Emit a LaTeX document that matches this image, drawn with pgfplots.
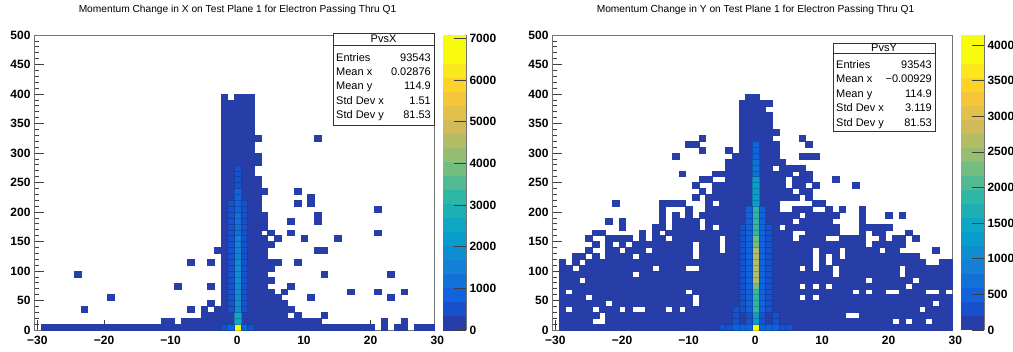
\documentclass[border=0pt]{standalone}
\usepackage{pgfplots}
\pgfplotsset{compat=1.18}
\usepackage{pgfplotstable}
\usepackage{fontspec}
\setmainfont{Liberation Sans}

\definecolor{bird0}{rgb}{0.1519,0.2395,0.6574}
\definecolor{framegray}{gray}{0.45}
\newcommand\ticklabelfont{\fontsize{12pt}{12pt}\selectfont\bfseries}
\newcommand\statfont{\fontsize{11pt}{13pt}\selectfont}
\newcommand\titlefont{\fontsize{10.2pt}{12pt}\selectfont}

\pgfplotsset{
  colormap={bird}{
    rgb=(0.1519,0.2395,0.6574) rgb=(0.0909,0.3188,0.7963) rgb=(0.0629,0.3883,0.8625)
    rgb=(0.0700,0.4428,0.8512) rgb=(0.0777,0.5018,0.8390) rgb=(0.0564,0.5584,0.8200)
    rgb=(0.0340,0.6148,0.8007) rgb=(0.0516,0.6556,0.7644) rgb=(0.1159,0.6867,0.7035)
    rgb=(0.1802,0.7178,0.6425) rgb=(0.3234,0.7307,0.5703) rgb=(0.4557,0.7425,0.5037)
    rgb=(0.5869,0.7460,0.4433) rgb=(0.7050,0.7393,0.3957) rgb=(0.8214,0.7336,0.3475)
    rgb=(0.8883,0.7538,0.2896) rgb=(0.9607,0.7757,0.2269) rgb=(0.9915,0.8281,0.1664)
    rgb=(0.9837,0.9087,0.1079) rgb=(0.9764,0.9832,0.0539) rgb=(0.9764,0.9832,0.0539)
  },
}

\newlength\binw \setlength\binw{3.3333pt}
\newlength\binh \setlength\binh{2.95pt}
\pgfdeclareplotmark{bin}{%
  \pgfpathrectangle{\pgfpoint{-\binw}{-\binh}}{\pgfpoint{2\binw}{2\binh}}%
  \pgfusepathqfillstroke}

\pgfplotsset{
  rootaxis/.style={
    scale only axis, width=400pt, height=295pt,
    xmin=-30.5, xmax=29.5, ymin=0, ymax=500,
    xtick={-30,-20,...,20}, xticklabels={−30,−20,−10,0,10,20},
    ytick={0,50,...,500}, yticklabels={0,50,100,150,200,250,300,350,400,450,500},
    minor x tick num=4, minor y tick num=4,
    tick align=inside, xtick pos=left, ytick pos=left,
    major tick length=10pt, minor tick length=5pt,
    tick style={black!75, line width=0.6pt},
    axis line style={framegray, line width=0.8pt},
    ticklabel style={font=\ticklabelfont},
    xticklabel style={yshift=-3pt},
    axis on top, clip=false,
    colormap name=bird, colormap access=piecewise constant,
    colorbar,
  },
  rootcbar/.style={
    at={(parent axis.north east)}, anchor=north west, xshift=0.5pt,
    scale only axis, width=23pt, height=295pt,
    tick align=inside, ytick pos=right, yticklabel pos=right,
    major tick length=12pt, minor tick num=0,
    tick style={black!75, line width=0.6pt},
    axis line style={draw=none},
    yticklabel style={font=\ticklabelfont},
    axis on top,
    extra description/.code={\draw[framegray, line width=0.8pt] (1,0)--(1,1);},
  },
  gridcol/.style={only marks, mark=bin, mark options={fill=bird0, draw=bird0, line width=0.3pt},
    restrict y to domain=0:500},
  binscatter/.style={scatter, only marks, mark=bin, scatter src=explicit, mark options={line width=0.3pt}},
}

% occupancy grids: rows from y-bin 390-400 (top) down to 0-10; columns x=-30..29
\pgfplotstableread[header=false]{
0 0 0 0 0 0 0 0 0 0 0 0 0 0 0 0 0 0 0 0 0 0 0 0 0 0 0 0 1 0 1 1 1 0 0 0 0 0 0 0 0 0 0 0 0 0 0 0 0 0 0 0 0 0 0 0 0 0 0 0
0 0 0 0 0 0 0 0 0 0 0 0 0 0 0 0 0 0 0 0 0 0 0 0 0 0 0 0 1 1 1 1 1 0 0 0 0 0 0 0 0 0 0 0 0 0 0 0 0 0 0 0 0 0 0 0 0 0 0 0
0 0 0 0 0 0 0 0 0 0 0 0 0 0 0 0 0 0 0 0 0 0 0 0 0 0 0 0 1 1 1 1 1 0 0 0 0 0 0 0 0 0 0 0 0 0 0 0 0 0 0 0 0 0 0 0 0 0 0 0
0 0 0 0 0 0 0 0 0 0 0 0 0 0 0 0 0 0 0 0 0 0 0 0 0 0 0 0 1 1 1 1 1 0 0 0 0 0 0 0 0 0 0 0 0 0 0 0 0 0 0 0 0 0 0 0 0 0 0 0
0 0 0 0 0 0 0 0 0 0 0 0 0 0 0 0 0 0 0 0 0 0 0 0 0 0 0 0 1 1 1 1 1 0 0 0 0 0 0 0 0 0 0 0 0 0 0 0 0 0 0 0 0 0 0 0 0 0 0 0
0 0 0 0 0 0 0 0 0 0 0 0 0 0 0 0 0 0 0 0 0 0 0 0 0 0 0 0 1 1 1 1 1 0 0 0 0 0 0 0 0 0 0 0 0 0 0 0 0 0 0 0 0 0 0 0 0 0 0 0
0 0 0 0 0 0 0 0 0 0 0 0 0 0 0 0 0 0 0 0 0 0 0 0 0 0 0 0 1 1 1 1 1 0 0 0 0 0 0 0 0 0 0 0 0 0 0 0 0 0 0 0 0 0 0 0 0 0 0 0
0 0 0 0 0 0 0 0 0 0 0 0 0 0 0 0 0 0 0 0 0 0 0 0 0 0 0 0 1 1 1 1 1 1 0 0 0 0 0 0 0 0 1 0 0 0 0 0 0 0 0 0 0 0 0 0 0 0 0 0
0 0 0 0 0 0 0 0 0 0 0 0 0 0 0 0 0 0 0 0 0 0 0 0 0 0 0 0 1 1 1 1 1 0 0 0 0 0 0 0 0 0 0 0 0 0 0 0 0 0 0 0 0 0 0 0 0 0 0 0
0 0 0 0 0 0 0 0 0 0 0 0 0 0 0 0 0 0 0 0 0 0 0 0 0 0 0 0 1 1 1 1 1 0 0 0 0 0 0 0 0 0 0 0 0 0 0 0 0 0 0 0 0 0 0 0 0 0 0 0
0 0 0 0 0 0 0 0 0 0 0 0 0 0 0 0 0 0 0 0 0 0 0 0 0 0 0 0 1 1 1 1 1 1 0 0 0 0 0 0 0 0 0 0 0 0 0 0 0 0 0 0 0 0 0 0 0 0 0 0
0 0 0 0 0 0 0 0 0 0 0 0 0 0 0 0 0 0 0 0 0 0 0 0 0 0 0 0 1 1 1 1 1 1 0 0 0 0 0 0 0 0 0 0 0 0 0 0 0 0 0 0 0 0 0 0 0 0 0 0
0 0 0 0 0 0 0 0 0 0 0 0 0 0 0 0 0 0 0 0 0 0 0 0 0 0 0 0 1 1 1 1 1 0 0 0 0 0 0 0 0 0 0 0 0 0 0 0 0 0 0 0 0 0 0 0 0 0 0 0
0 0 0 0 0 0 0 0 0 0 0 0 0 0 0 0 0 0 0 0 0 0 0 0 0 0 0 0 1 1 1 1 1 0 0 0 0 0 0 0 0 0 0 0 0 0 0 0 0 0 0 0 0 0 0 0 0 0 0 0
0 0 0 0 0 0 0 0 0 0 0 0 0 0 0 0 0 0 0 0 0 0 0 0 0 0 0 0 1 1 1 1 1 1 0 0 0 0 0 0 0 0 0 0 0 0 0 0 0 0 0 0 0 0 0 0 0 0 0 0
0 0 0 0 0 0 0 0 0 0 0 0 0 0 0 0 0 0 0 0 0 0 0 0 0 0 0 0 1 1 1 1 1 1 0 0 0 0 0 0 0 0 0 0 0 0 0 0 0 0 0 0 0 0 0 0 0 0 0 0
0 0 0 0 0 0 0 0 0 0 0 0 0 0 0 0 0 0 0 0 0 0 0 0 0 0 0 0 1 1 1 1 1 1 1 0 0 0 0 1 0 0 0 0 0 0 0 0 0 0 0 0 0 0 0 0 0 0 0 0
0 0 0 0 0 0 0 0 0 0 0 0 0 0 0 0 0 0 0 0 0 0 0 0 0 0 0 0 1 1 1 1 1 1 0 0 0 0 0 0 0 1 0 0 0 0 0 0 0 0 0 0 0 0 0 0 0 0 0 0
0 0 0 0 0 0 0 0 0 0 0 0 0 0 0 0 0 0 0 0 0 0 0 0 0 0 0 0 1 1 1 1 1 1 0 0 0 0 0 1 0 1 0 0 0 0 0 0 0 0 0 0 0 0 0 0 0 0 0 0
0 0 0 0 0 0 0 0 0 0 0 0 0 0 0 0 0 0 0 0 0 0 0 0 0 0 0 0 1 1 1 1 1 1 0 0 0 0 0 0 0 0 0 0 0 0 0 0 0 0 0 1 0 0 0 0 0 0 0 0
0 0 0 0 0 0 0 0 0 0 0 0 0 0 0 0 0 0 0 0 0 0 0 0 0 0 0 0 1 1 1 1 1 1 1 0 0 0 0 0 0 0 1 0 0 0 0 0 0 0 0 0 0 0 0 0 0 0 0 0
0 0 0 0 0 0 0 0 0 0 0 0 0 0 0 0 0 0 0 0 0 0 0 0 0 0 0 0 1 1 1 1 1 1 1 0 0 0 1 0 0 0 1 0 0 0 0 0 0 0 0 0 0 0 0 0 0 0 0 0
0 0 0 0 0 0 0 0 0 0 0 0 0 0 0 0 0 0 0 0 0 0 0 0 0 0 0 0 1 1 1 1 1 1 1 0 0 0 0 0 0 0 0 0 0 0 0 0 0 0 0 0 0 0 0 0 0 0 0 0
0 0 0 0 0 0 0 0 0 0 0 0 0 0 0 0 0 0 0 0 0 0 0 0 0 0 0 0 1 1 1 1 1 1 0 1 0 0 1 0 0 0 0 0 0 0 0 0 0 0 0 1 0 0 0 0 0 0 0 0
0 0 0 0 0 0 0 0 0 0 0 0 0 0 0 0 0 0 0 0 0 0 0 0 0 0 0 0 1 1 1 1 1 1 1 0 1 0 0 0 1 0 0 0 0 1 0 0 0 0 0 0 0 0 0 0 0 0 0 0
0 0 0 0 0 0 0 0 0 0 0 0 0 0 0 0 0 0 0 0 0 0 0 0 0 0 0 0 1 1 1 1 1 1 1 1 0 0 0 0 0 0 0 0 0 0 0 0 0 0 0 0 0 0 0 0 0 0 0 0
0 0 0 0 0 0 0 0 0 0 0 0 0 0 0 0 0 0 0 0 0 0 0 0 0 0 0 1 1 1 1 1 1 1 1 0 0 0 0 0 0 0 1 1 0 0 0 0 0 0 0 0 0 0 0 0 0 0 0 0
0 0 0 0 0 0 0 0 0 0 0 0 0 0 0 0 0 0 0 0 0 0 0 0 0 0 0 0 1 1 1 1 1 1 1 0 0 0 0 0 0 0 0 0 0 0 0 0 0 0 0 0 0 0 0 0 0 0 0 0
0 0 0 0 0 0 0 0 0 0 0 0 0 0 0 0 0 0 0 0 0 0 0 1 0 0 1 0 1 1 1 1 1 1 1 1 1 0 0 1 0 0 0 0 0 0 0 0 0 0 0 0 0 0 0 0 0 0 0 0
0 0 0 0 0 0 0 0 0 0 0 0 0 0 0 0 0 0 0 0 0 0 0 0 0 0 0 0 1 1 1 1 1 1 1 1 0 0 0 0 0 0 0 0 0 0 0 0 0 0 0 0 0 0 0 0 0 0 0 0
0 0 0 0 0 0 1 0 0 0 0 0 0 0 0 0 0 0 0 0 0 0 0 0 0 0 0 0 1 1 1 1 1 1 1 0 0 0 0 0 0 0 0 1 0 0 0 0 0 0 0 0 0 1 0 0 0 0 0 0
0 0 0 0 0 0 0 0 0 0 0 0 0 0 0 0 0 0 0 0 0 0 0 0 0 0 0 0 1 1 1 1 1 1 1 1 0 0 0 0 0 0 0 0 0 0 0 0 0 0 0 0 0 0 0 0 0 0 0 0
0 0 0 0 0 0 0 0 0 0 0 0 0 0 0 0 0 0 0 0 0 1 0 0 0 0 1 0 1 1 1 1 1 1 1 0 0 0 1 0 0 0 0 0 0 0 0 0 0 0 0 0 0 0 0 0 0 0 0 0
0 0 0 0 0 0 0 0 0 0 0 0 0 0 0 0 0 0 0 0 0 0 0 0 0 0 0 0 1 1 1 1 1 1 1 1 0 1 0 0 0 0 0 0 0 0 0 1 0 0 0 1 0 0 0 1 0 0 0 0
0 0 0 0 0 0 0 0 0 0 0 1 0 0 0 0 0 0 0 0 0 0 0 0 0 0 0 0 1 1 1 1 1 1 1 1 1 0 0 0 0 1 0 0 0 0 0 0 0 0 0 0 0 1 0 0 0 0 0 0
0 0 0 0 0 0 0 0 0 0 0 0 0 0 0 0 0 0 0 0 0 0 0 0 0 0 1 0 1 1 1 1 1 1 1 1 1 1 0 0 0 0 0 0 0 0 0 0 0 0 0 0 0 0 0 0 0 0 0 0
0 0 0 0 0 0 0 1 0 0 0 0 0 0 0 0 0 0 0 0 0 0 0 1 0 1 0 1 1 1 1 1 1 1 1 1 1 1 1 0 0 0 0 0 0 0 0 0 0 0 0 0 0 0 0 0 0 0 0 0
0 0 0 0 0 0 0 0 0 0 0 0 0 0 0 0 0 0 0 0 0 0 0 0 0 1 1 1 1 1 1 1 1 1 1 1 1 1 0 1 0 0 0 1 0 0 0 0 0 0 0 0 0 0 0 0 0 0 0 0
0 0 0 0 0 0 0 0 0 0 0 0 0 0 0 0 0 0 0 1 1 0 1 1 1 1 1 1 1 1 1 1 1 1 1 1 1 1 1 1 1 1 1 0 0 0 0 0 0 0 0 0 1 0 0 1 0 0 0 0
0 1 1 1 1 1 1 1 1 1 1 1 1 1 1 1 1 1 1 1 1 1 1 1 1 1 1 1 1 1 1 1 1 1 1 1 1 1 1 1 1 1 1 1 1 1 1 1 1 1 1 0 1 0 1 1 0 1 1 1
}\leftgrid

\pgfplotstableread[header=false]{
0 0 0 0 0 0 0 0 0 0 0 0 0 0 0 0 0 0 0 0 0 0 0 0 0 0 0 0 0 1 1 0 0 0 0 0 0 0 0 0 0 0 0 0 0 0 0 0 0 0 0 0 0 0 0 0 0 0 0 0
0 0 0 0 0 0 0 0 0 0 0 0 0 0 0 0 0 0 0 0 0 0 0 0 0 0 0 0 1 1 1 1 1 0 0 0 0 0 0 0 0 0 0 0 0 0 0 0 0 0 0 0 0 0 0 0 0 0 0 0
0 0 0 0 0 0 0 0 0 0 0 0 0 0 0 0 0 0 0 0 0 0 0 0 0 0 0 0 1 1 1 1 0 0 0 0 0 0 0 0 0 0 0 0 0 0 0 0 0 0 0 0 0 0 0 0 0 0 0 0
0 0 0 0 0 0 0 0 0 0 0 0 0 0 0 0 0 0 0 0 0 0 0 0 0 0 0 0 1 1 1 1 1 0 0 0 0 0 0 0 0 0 0 0 0 0 0 0 0 0 0 0 0 0 0 0 0 0 0 0
0 0 0 0 0 0 0 0 0 0 0 0 0 0 0 0 0 0 0 0 0 0 0 0 0 0 0 0 1 1 1 1 1 0 0 0 0 0 0 0 0 0 0 0 0 0 0 0 0 0 0 0 0 0 0 0 0 0 0 0
0 0 0 0 0 0 0 0 0 0 0 0 0 0 0 0 0 0 0 0 0 0 0 0 0 0 0 0 1 1 1 1 1 0 0 0 0 0 0 0 0 0 0 0 0 0 0 0 0 0 0 0 0 0 0 0 0 0 0 0
0 0 0 0 0 0 0 0 0 0 0 0 0 0 0 0 0 0 0 0 0 0 0 0 0 0 0 0 1 1 1 1 1 1 0 0 0 0 0 0 0 0 0 0 0 0 0 0 0 0 0 0 0 0 0 0 0 0 0 0
0 0 0 0 0 0 0 0 0 0 0 0 0 0 0 0 0 0 0 0 0 0 1 0 0 0 0 0 1 1 1 1 1 0 0 0 0 1 0 0 0 0 0 0 0 0 0 0 0 0 0 0 0 0 0 0 0 0 0 0
0 0 0 0 0 0 0 0 0 0 0 0 0 0 0 0 0 0 0 0 1 1 0 0 0 0 0 0 1 1 1 1 1 1 0 0 0 0 1 0 0 0 0 0 0 0 0 0 0 0 0 0 0 0 0 0 0 0 0 0
0 0 0 0 0 0 0 0 0 0 0 0 0 0 0 0 0 0 0 0 0 0 1 0 0 0 1 0 1 1 1 1 1 1 0 0 0 0 0 0 0 0 0 0 0 0 0 0 0 0 0 0 0 0 0 0 0 0 0 0
0 0 0 0 0 0 0 0 0 0 0 0 0 0 0 0 0 0 1 0 0 0 0 0 0 0 0 1 1 1 1 1 1 1 0 0 0 1 1 1 0 0 0 0 0 0 0 0 0 0 0 0 0 0 0 0 0 0 0 0
0 0 0 0 0 0 0 0 0 0 0 0 0 0 0 0 0 0 0 0 0 0 0 0 0 0 1 1 1 1 1 1 1 1 1 0 0 0 0 0 0 0 0 0 0 0 0 0 0 0 0 0 0 0 0 0 0 0 0 0
0 0 0 0 0 0 0 0 0 0 0 0 0 0 0 0 0 0 0 0 0 0 0 0 0 0 1 1 1 1 1 1 1 0 1 1 1 1 0 0 0 0 0 0 0 0 0 0 0 0 0 0 0 0 0 0 0 0 0 0
0 0 0 0 0 0 0 0 0 0 0 0 0 0 0 0 0 0 0 1 0 0 0 0 1 1 1 1 1 1 1 1 1 1 1 1 0 1 1 0 0 0 0 0 0 0 0 0 0 0 0 0 0 0 0 0 0 0 0 0
0 0 0 0 0 0 0 0 0 0 0 0 0 0 0 0 0 0 0 0 0 0 1 1 0 0 1 1 1 1 1 1 1 1 1 0 1 1 1 0 0 0 1 0 0 0 0 0 0 0 0 0 0 0 0 0 0 0 0 0
0 0 0 0 0 0 0 0 0 0 0 0 0 0 0 0 0 0 0 0 0 1 0 0 1 1 1 1 1 1 1 1 1 1 1 0 1 1 0 1 0 0 0 0 0 1 0 0 0 0 0 0 0 0 0 0 0 0 0 0
0 0 0 0 0 0 0 0 0 0 0 0 0 0 0 0 0 0 0 0 0 0 1 0 1 1 1 1 1 1 1 1 1 1 1 1 0 1 1 0 0 0 0 0 0 0 0 0 0 0 0 0 0 0 0 0 0 0 0 0
0 0 0 0 0 0 0 0 0 0 0 0 0 0 0 0 0 0 0 0 0 1 0 1 1 1 1 1 1 1 1 1 1 1 1 1 1 0 1 0 0 0 0 0 0 0 0 0 0 0 0 0 0 0 0 0 0 0 0 0
0 0 0 0 0 0 0 0 0 1 0 0 0 0 0 0 1 1 1 1 0 0 0 1 0 1 1 1 1 1 1 1 1 1 0 0 0 0 0 1 1 0 0 0 0 0 0 0 0 0 0 0 0 0 0 0 0 0 0 0
0 0 0 0 0 0 0 0 0 0 0 0 0 0 0 0 1 0 0 0 1 0 0 1 1 1 1 1 1 1 1 1 1 1 0 0 1 1 1 0 0 1 0 1 0 0 1 0 0 0 0 0 0 0 0 0 0 0 0 0
0 0 0 0 0 0 0 0 0 0 0 0 0 0 0 0 1 0 1 0 1 0 1 1 1 1 1 1 1 1 1 1 1 1 1 1 1 0 1 1 1 1 1 0 0 0 1 0 0 0 1 0 1 0 0 0 0 0 0 0
0 0 0 0 0 0 0 0 1 0 1 0 0 0 0 0 1 0 1 1 1 1 0 1 1 1 1 1 1 1 1 1 1 1 1 1 0 1 1 1 1 1 0 0 0 0 1 0 0 0 0 0 0 0 0 0 0 0 0 0
0 0 0 0 0 0 0 0 0 0 1 0 0 0 0 1 1 0 1 1 1 1 0 1 0 1 1 1 1 1 1 1 1 1 0 1 1 1 1 1 1 1 1 0 0 0 1 1 1 1 1 0 0 0 0 0 0 0 0 0
0 0 0 0 0 0 1 1 0 0 0 0 0 1 0 1 0 1 1 1 1 1 1 1 1 1 1 1 1 1 1 1 1 1 1 1 0 0 1 1 1 1 1 0 0 0 1 0 1 1 0 0 0 1 0 0 0 0 0 0
0 0 0 0 0 1 0 0 1 1 1 1 0 1 0 1 1 0 1 1 1 1 1 1 1 0 1 1 1 1 1 1 1 1 1 1 0 1 1 1 1 0 0 1 1 1 1 0 0 1 0 1 1 0 1 0 0 0 0 0
0 0 0 0 0 0 1 0 1 0 1 0 1 1 1 1 1 1 1 1 1 0 1 1 1 0 1 1 1 1 1 1 1 1 1 1 1 1 1 1 1 1 1 1 1 1 1 0 1 1 1 1 1 0 0 0 0 0 0 0
0 0 0 0 0 1 0 0 1 1 0 1 1 1 0 1 1 1 1 1 1 0 1 1 1 0 1 1 1 1 1 1 1 1 1 1 1 1 1 0 1 1 1 0 1 1 1 1 1 0 1 1 0 0 0 0 0 1 0 0
0 0 0 1 1 0 1 0 1 1 1 1 0 1 1 1 1 1 1 1 1 0 1 1 1 1 1 1 1 1 1 1 1 1 1 1 1 1 1 0 1 0 1 0 1 1 1 1 1 1 1 1 1 1 1 0 0 0 0 0
0 1 0 1 0 1 1 1 1 1 1 1 1 1 1 1 1 1 1 1 1 1 1 1 1 1 1 1 1 1 1 1 1 1 1 1 1 1 1 0 1 0 1 1 1 1 1 1 1 1 1 1 1 1 1 1 0 0 1 1
0 1 1 0 1 1 1 1 1 1 1 1 1 1 1 0 1 1 1 1 0 0 1 1 1 1 1 1 1 1 1 1 1 1 1 1 1 0 1 0 1 1 0 1 1 1 1 1 1 1 1 1 0 1 1 1 1 1 1 1
0 1 1 1 1 1 1 1 1 1 1 1 0 1 1 1 1 1 1 1 1 1 1 1 1 1 1 1 1 1 1 1 1 1 1 1 1 1 1 1 1 1 0 1 1 1 1 1 1 1 1 1 0 1 1 1 1 1 1 1
0 1 1 1 0 1 1 1 1 1 1 1 1 1 1 1 1 1 1 1 1 1 1 1 1 1 1 1 1 1 1 1 1 1 1 1 1 1 1 1 1 1 1 1 1 1 1 0 1 1 1 1 1 1 0 1 1 1 1 1
0 1 1 1 1 1 1 1 1 1 1 1 1 1 1 1 1 1 1 1 1 1 1 1 1 1 1 1 1 1 1 1 1 1 1 1 1 0 1 0 1 0 1 1 1 1 1 1 1 1 1 1 1 0 1 1 1 1 1 1
0 1 0 1 1 1 1 1 1 1 1 1 1 1 1 1 1 1 1 1 0 1 1 1 1 1 1 1 1 1 1 1 1 1 1 1 1 1 1 1 1 1 1 1 1 0 1 0 1 1 0 0 1 1 1 1 0 0 1 0
0 1 1 1 1 0 1 1 1 1 1 1 1 1 1 1 1 1 1 1 1 0 1 1 1 1 1 1 1 1 1 1 1 1 1 1 1 0 1 0 1 1 1 1 1 1 1 1 1 1 1 1 1 1 1 1 1 1 1 1
0 1 1 1 1 1 1 1 0 1 1 1 1 1 1 1 1 1 1 1 1 0 1 1 1 1 1 1 1 1 1 1 1 1 1 1 1 1 1 1 1 1 1 1 1 1 1 1 1 1 1 1 1 1 1 1 1 0 1 1
0 1 0 1 1 1 0 1 1 1 0 1 0 0 1 1 1 0 1 0 1 1 1 1 1 1 1 1 1 1 1 1 1 1 1 1 1 1 1 1 1 1 1 1 1 1 1 1 1 1 1 1 1 1 1 0 1 1 1 1
0 1 1 1 1 1 1 0 1 1 1 1 1 1 1 1 1 1 1 1 1 1 1 1 1 1 1 1 1 1 1 1 1 1 1 1 1 1 1 1 1 1 1 1 0 0 1 1 1 1 1 1 1 1 1 1 1 1 1 1
0 1 1 1 1 1 0 0 1 1 1 1 1 1 1 1 1 1 1 1 1 1 1 1 1 1 1 1 1 1 1 1 1 1 1 1 1 1 1 1 1 1 1 1 1 1 1 1 1 1 1 0 1 0 1 1 0 1 1 1
0 1 1 1 1 1 1 1 1 1 1 1 1 1 1 1 1 1 1 1 1 1 1 1 1 1 1 1 1 1 1 1 1 1 1 1 1 1 1 1 1 1 1 1 1 1 1 1 1 1 1 1 1 1 1 1 1 1 1 1
}\rightgrid

\begin{document}
\begin{tikzpicture}
\useasboundingbox (0,0) rectangle (1013pt,352pt);

% ---------------- left panel ----------------
\begin{axis}[rootaxis, at={(34pt,22pt)}, anchor=south west,
  point meta min=0, point meta max=7080,
  colorbar style={rootcbar, ytick={0,1000,...,7000},
    yticklabels={0,1000,2000,3000,4000,5000,6000,7000}},
]
\pgfplotsinvokeforeach{0,...,59}{
  \addplot[gridcol]
    table[x expr=#1-30, y expr=395-10*\coordindex+1000*(1-\thisrowno{#1})]{\leftgrid};
}
\addplot[binscatter] table[meta=v]{
x y v
0 5 7000
0 15 2500
0 25 2500
0 35 1950
0 45 1950
0 55 1950
0 65 1950
0 75 1950
0 85 1950
0 95 1950
0 105 1950
0 115 1950
0 125 1590
0 135 1590
0 145 1590
0 155 1590
0 165 1240
0 175 1240
0 185 1240
0 195 1240
0 205 885
0 215 885
0 225 885
0 235 885
0 245 530
0 255 530
0 265 530
0 275 530
-1 35 530
-1 45 530
-1 55 530
-1 65 530
-1 75 530
-1 85 530
-1 95 530
-1 105 530
-1 115 530
-1 125 530
-1 135 530
-1 145 530
-1 155 530
-1 165 530
-1 175 530
-1 185 530
-1 195 530
-1 205 530
-1 215 530
1 35 530
1 45 530
1 55 530
1 65 530
1 75 530
1 85 530
1 95 530
1 105 530
1 115 530
1 125 530
1 135 530
1 145 530
1 155 530
1 165 530
1 175 530
1 185 530
1 195 530
1 205 530
1 215 530
-2 5 600
-1 5 900
1 5 900
2 5 600
};
\node[anchor=north, font=\ticklabelfont, yshift=-3pt] at (axis cs:30,0) {30};
\end{axis}

% ---------------- right panel ----------------
\begin{axis}[rootaxis, at={(552pt,22pt)}, anchor=south west,
  point meta min=0, point meta max=4140,
  colorbar style={rootcbar, ytick={0,500,...,4000},
    yticklabels={0,500,1000,1500,2000,2500,3000,3500,4000}},
]
\pgfplotsinvokeforeach{0,...,59}{
  \addplot[gridcol]
    table[x expr=#1-30, y expr=395-10*\coordindex+1000*(1-\thisrowno{#1})]{\rightgrid};
}
\addplot[binscatter] table[meta=v]{
x y v
0 5 4100
0 15 1300
0 25 1300
0 35 1800
0 45 1800
0 55 1800
0 65 1800
0 75 2300
0 85 2600
0 95 2600
0 105 2600
0 115 2600
0 125 2600
0 135 2600
0 145 2300
0 155 2300
0 165 1900
0 175 1900
0 185 1900
0 195 1900
0 205 1900
0 215 1200
0 225 1200
0 235 1200
0 245 1200
0 255 1200
0 265 750
0 275 750
0 285 750
0 295 450
0 305 450
0 315 450
-1 15 300
-1 25 300
1 15 300
1 25 300
-1 35 500
-1 45 500
-1 55 500
-1 65 500
-1 75 500
-1 85 500
-1 95 500
-1 105 500
-1 115 500
-1 125 500
-1 135 500
-1 145 500
-1 155 500
-1 165 500
-1 175 500
-1 185 500
-1 195 500
-1 205 500
1 35 500
1 45 500
1 55 500
1 65 500
1 75 500
1 85 500
1 95 500
1 105 500
1 115 500
1 125 500
1 135 500
1 145 500
1 155 500
1 165 500
1 175 500
1 185 500
1 195 500
1 205 500
-2 35 300
-2 45 300
-2 55 300
-2 65 300
-2 75 300
-2 85 300
-2 95 300
-2 105 300
-2 115 300
-2 125 300
-2 135 300
-2 145 300
-2 155 300
-2 165 300
-2 175 300
2 35 300
2 45 300
2 55 300
2 65 300
2 75 300
2 85 300
2 95 300
2 105 300
2 115 300
2 125 300
2 135 300
2 145 300
2 155 300
2 165 300
2 175 300
-3 15 300
-3 25 300
-3 35 300
3 15 300
3 25 300
-5 5 300
-4 5 300
-3 5 500
-2 5 500
-1 5 500
1 5 500
2 5 500
3 5 500
4 5 300
5 5 300
};
\node[anchor=north, font=\ticklabelfont, yshift=-3pt] at (axis cs:30,0) {30};
\end{axis}

% ---------------- titles ----------------
\node[font=\titlefont] at (237.5pt,342pt) {Momentum Change in X on Test Plane 1 for Electron Passing Thru Q1};
\node[font=\titlefont] at (755.5pt,342pt) {Momentum Change in Y on Test Plane 1 for Electron Passing Thru Q1};

% ---------------- stats boxes ----------------
\draw[black!80, line width=0.6pt, fill=white] (333pt,227pt) rectangle (434pt,319pt);
\draw[black!80, line width=0.6pt] (333pt,307pt) -- (434pt,307pt);
\node[font=\statfont, anchor=base] at (383.5pt,309.3pt) {PvsX};
\foreach \lab/\val/\yy in {Entries/93543/290.8, Mean x/0.02876/276.4, Mean y/114.9/262, Std Dev x/1.51/247.6, Std Dev y/81.53/233.2}{
  \node[font=\statfont, anchor=base west, inner sep=0pt] at (336pt,\yy pt) {\lab};
  \node[font=\statfont, anchor=base east, inner sep=0pt] at (431pt,\yy pt) {\val};
}

\draw[black!80, line width=0.6pt, fill=white] (833pt,221pt) rectangle (935pt,309pt);
\draw[black!80, line width=0.6pt] (833pt,299pt) -- (935pt,299pt);
\node[font=\statfont, anchor=base] at (884pt,300.6pt) {PvsY};
\foreach \lab/\val/\yy in {Entries/93543/283, Mean x/−0.00929/269, Mean y/114.9/254.5, Std Dev x/3.119/240, Std Dev y/81.53/225.5}{
  \node[font=\statfont, anchor=base west, inner sep=0pt] at (836pt,\yy pt) {\lab};
  \node[font=\statfont, anchor=base east, inner sep=0pt] at (932pt,\yy pt) {\val};
}
\end{tikzpicture}
\end{document}
